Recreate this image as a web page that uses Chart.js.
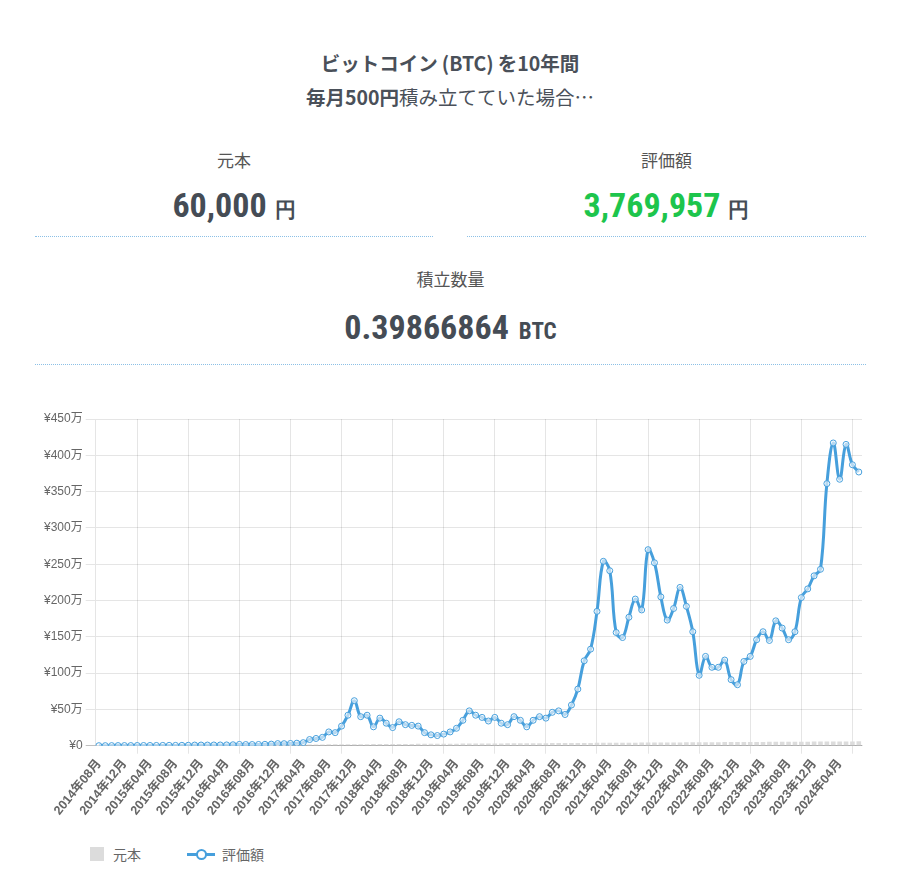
<!DOCTYPE html>
<html lang="ja">
<head>
<meta charset="utf-8">
<title>ビットコイン積立シミュレーション</title>
<script src="https://cdn.jsdelivr.net/npm/chart.js@4.4.1/dist/chart.umd.min.js"></script>
<style>
  body {
    margin: 0; width: 900px; height: 880px; position: relative; overflow: hidden;
    background: #fff; color: #4a5059;
    font-family: "Noto Sans CJK JP", "Noto Sans", sans-serif;
  }
  .titulo {
    position: absolute; top: 46px; left: 0; width: 900px;
    text-align: center; font-size: 19.5px; line-height: 34px;
  }
  .titulo b { font-weight: 700; }
  .titulo .par-a { margin-left: 4px; }
  .titulo .par-f { margin-right: 4px; }
  .stat { position: absolute; text-align: center; border-bottom: 1px dotted #8cc0e6; }
  .stat .rotulo { font-size: 17px; line-height: 28px; color: #555; height: 28px; }
  .stat .valor {
    font-family: "Roboto Condensed", "Liberation Sans Narrow", "DejaVu Sans Condensed", sans-serif;
    font-weight: 700; font-size: 34px; line-height: 44px; color: #454c55;
  }
  .stat .valor.verde { color: #1dc54c; }
  .stat .unid { font-size: 21px; color: #454c55; margin-left: 8px; }
  .stat .unid.btc { font-size: 23px; margin-left: 10px; }
  .legenda {
    position: absolute; top: 847px; left: 90px; height: 14px;
    display: flex; align-items: center; font-size: 14px; color: #666;
  }
  .sw-bar { width: 14px; height: 14px; background: #dcdcdc; margin-right: 9px; }
  .sw-line { position: relative; width: 28px; height: 14px; margin-left: 46px; margin-right: 7px; }
  .sw-line::before {
    content: ''; position: absolute; left: 0; right: 0; top: 6px; height: 3px; background: #469fdc;
  }
  .sw-line::after {
    content: ''; position: absolute; left: 9px; top: 2px; width: 7px; height: 7px;
    border: 2px solid #469fdc; border-radius: 50%; background: #fff;
  }
  .chart-box { position: absolute; left: 0; top: 400px; width: 900px; height: 421px; }
</style>
</head>
<body>

<div class="titulo">
  <b>ビットコイン<span class="par-a">(</span>BTC<span class="par-f">)</span>を10年間</b><br>
  <b>毎月500円</b>積み立てていた場合…
</div>

<div class="stat" style="left:35px; top:146px; width:398px; height:90px;">
  <div class="rotulo">元本</div>
  <div class="valor" style="margin-top:9px;">60,000<span class="unid">円</span></div>
</div>
<div class="stat" style="left:467px; top:146px; width:399px; height:90px;">
  <div class="rotulo">評価額</div>
  <div class="valor verde" style="margin-top:9px;">3,769,957<span class="unid">円</span></div>
</div>
<div class="stat" style="left:35px; top:265px; width:831px; height:99px;">
  <div class="rotulo">積立数量</div>
  <div class="valor" style="margin-top:12px;">0.39866864<span class="unid btc">BTC</span></div>
</div>

<div class="chart-box"><canvas id="grafico"></canvas></div>

<div class="legenda">
  <span class="sw-bar"></span><span>元本</span>
  <span class="sw-line"></span><span>評価額</span>
</div>

<script>
// meses: 2014年08月 .. 2024年07月 (120 meses)
const INICIO_ANO = 2014;
const INICIO_MES = 8;
const N_MESES = 120;

// 元本 (円) — 500円/月 acumulado
const GENPON = [
  500, 1000, 1500, 2000, 2500, 3000, 3500, 4000, 4500, 5000, 5500, 6000,
  6500, 7000, 7500, 8000, 8500, 9000, 9500, 10000, 10500, 11000, 11500, 12000,
  12500, 13000, 13500, 14000, 14500, 15000, 15500, 16000, 16500, 17000, 17500, 18000,
  18500, 19000, 19500, 20000, 20500, 21000, 21500, 22000, 22500, 23000, 23500, 24000,
  24500, 25000, 25500, 26000, 26500, 27000, 27500, 28000, 28500, 29000, 29500, 30000,
  30500, 31000, 31500, 32000, 32500, 33000, 33500, 34000, 34500, 35000, 35500, 36000,
  36500, 37000, 37500, 38000, 38500, 39000, 39500, 40000, 40500, 41000, 41500, 42000,
  42500, 43000, 43500, 44000, 44500, 45000, 45500, 46000, 46500, 47000, 47500, 48000,
  48500, 49000, 49500, 50000, 50500, 51000, 51500, 52000, 52500, 53000, 53500, 54000,
  54500, 55000, 55500, 56000, 56500, 57000, 57500, 58000, 58500, 59000, 59500, 60000,
];

// 評価額 (円)
const HYOUKA = [
  500, 1000, 1300, 1800, 2200, 2000, 2700, 3000, 3300, 3700, 4200, 4600,
  4500, 5000, 6000, 9000, 9500, 9000, 10000, 10200, 11000, 13000, 18000, 16000,
  16000, 17000, 19000, 22000, 29000, 28000, 31000, 35000, 42000, 85000, 100000, 115000,
  190000, 180000, 270000, 420000, 620000, 400000, 420000, 260000, 380000, 310000, 250000, 330000,
  290000, 280000, 270000, 180000, 150000, 140000, 160000, 190000, 240000, 350000, 480000, 420000,
  390000, 340000, 390000, 310000, 290000, 400000, 350000, 260000, 350000, 400000, 380000, 460000,
  480000, 430000, 560000, 780000, 1170000, 1330000, 1850000, 2540000, 2410000, 1560000, 1490000, 1770000,
  2020000, 1870000, 2700000, 2520000, 2050000, 1730000, 1890000, 2180000, 1920000, 1570000, 970000, 1230000,
  1080000, 1080000, 1180000, 910000, 840000, 1160000, 1230000, 1460000, 1570000, 1450000, 1720000, 1620000,
  1460000, 1570000, 2040000, 2160000, 2340000, 2430000, 3610000, 4170000, 3670000, 4150000, 3870000, 3769957,
];

const Y_MAX = 4500000;
const Y_STEP = 500000;

const PALETTE = {
  blue: '#469fdc',
  pointFill: 'rgba(255,255,255,0.6)',
  bar: '#dcdcdc',
  grid: 'rgba(0,0,0,0.1)',
  zero: 'rgba(0,0,0,0.25)',
  tick: '#666',
};

const labels = Array.from({ length: N_MESES }, (_, i) => {
  const m = INICIO_MES - 1 + i;
  const mm = String((m % 12) + 1).padStart(2, '0');
  return `${INICIO_ANO + Math.floor(m / 12)}年${mm}月`;
});

const fmtYen = (v) => (v === 0 ? '¥0' : `¥${v / 10000}万`);

Chart.defaults.font.family = "'Liberation Sans', 'Noto Sans CJK JP', sans-serif";
Chart.defaults.font.size = 12;
Chart.defaults.color = PALETTE.tick;

new Chart(document.getElementById('grafico'), {
  type: 'bar',
  data: {
    labels,
    datasets: [
      {
        type: 'line',
        label: '評価額',
        data: HYOUKA,
        order: 0,
        borderColor: PALETTE.blue,
        borderWidth: 3,
        tension: 0.4,
        fill: false,
        pointRadius: 3,
        pointBorderWidth: 1,
        pointBorderColor: PALETTE.blue,
        pointBackgroundColor: PALETTE.pointFill,
      },
      {
        type: 'bar',
        label: '元本',
        data: GENPON,
        order: 1,
        backgroundColor: PALETTE.bar,
      },
    ],
  },
  options: {
    responsive: true,
    maintainAspectRatio: false,
    animation: false,
    layout: { padding: { left: 41, right: 38, top: 19, bottom: 0 } },
    plugins: {
      legend: { display: false },
      tooltip: { enabled: false },
    },
    scales: {
      x: {
        grid: { color: PALETTE.grid, tickLength: 8 },
        ticks: {
          font: { size: 12.5, weight: 'bold' },
          minRotation: 51,
          maxRotation: 51,
          autoSkip: true,
          maxTicksLimit: 30,
        },
      },
      y: {
        min: 0,
        max: Y_MAX,
        grid: {
          tickLength: 10,
          color: (ctx) => (ctx.tick && ctx.tick.value === 0 ? PALETTE.zero : PALETTE.grid),
        },
        ticks: { stepSize: Y_STEP, callback: fmtYen },
      },
    },
  },
});
</script>
</body>
</html>
